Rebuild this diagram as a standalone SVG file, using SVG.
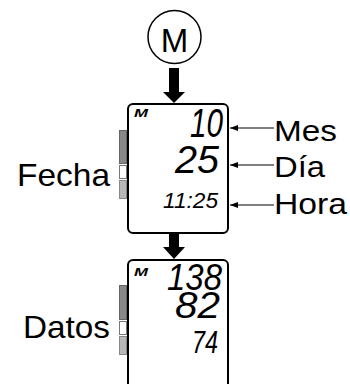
<svg xmlns="http://www.w3.org/2000/svg" width="350" height="384" viewBox="0 0 350 384">
<defs>
<style>
.lbl{font-family:"Liberation Sans",Arial,sans-serif;fill:#000}
.lcd{font-family:"Liberation Sans",Arial,sans-serif;font-style:italic;fill:#000}
.box{fill:#fff;stroke:#000;stroke-width:2}
.lead{stroke:#000;stroke-width:1;fill:none}
.dk{fill:#888;stroke:#666;stroke-width:1}
.wh{fill:#fff;stroke:#777;stroke-width:1}
.lt{fill:#b8b8b8;stroke:#888;stroke-width:1}
</style>
<marker id="ah" viewBox="0 0 8 6" refX="0" refY="3" markerWidth="8" markerHeight="6" markerUnits="userSpaceOnUse" orient="auto">
<path d="M8,0 L0,3 L8,6 Z" fill="#000"/>
</marker>
</defs>
<rect width="350" height="384" fill="#fff"/>
<g id="btn-m">
<circle cx="174.5" cy="37" r="26.5" fill="#fff" stroke="#000" stroke-width="1.5"/>
<text class="lbl" x="174.5" y="52" font-size="33" text-anchor="middle">M</text>
</g>
<g id="connectors">
<rect x="169" y="68" width="10" height="25" fill="#000"/>
<path d="M163,92 L185,92 L174,103 Z" fill="#000"/>
<rect x="169" y="234" width="10" height="14" fill="#000"/>
<path d="M163,247 L185,247 L174,259 Z" fill="#000"/>
<line class="lead" x1="230" y1="128" x2="274" y2="128" marker-start="url(#ah)"/>
<line class="lead" x1="230" y1="165" x2="274" y2="165" marker-start="url(#ah)"/>
<line class="lead" x1="230" y1="205" x2="274" y2="205" marker-start="url(#ah)"/>
</g>
<g id="screen-fecha">
<rect class="box" x="128" y="104" width="100" height="129" rx="5"/>
<text class="lcd" x="134" y="117" font-size="10" font-weight="bold" textLength="14" lengthAdjust="spacingAndGlyphs">M</text>
<text class="lcd" x="190" y="137" font-size="40" textLength="33" lengthAdjust="spacingAndGlyphs">10</text>
<text class="lcd" x="175" y="173" font-size="39" textLength="44" lengthAdjust="spacingAndGlyphs">25</text>
<text class="lcd" x="163" y="208" font-size="22" textLength="55" lengthAdjust="spacingAndGlyphs">11:25</text>
</g>
<g id="bar-fecha">
<rect class="dk" x="119.5" y="130.5" width="7" height="33"/>
<rect class="wh" x="119.5" y="165.5" width="7" height="13"/>
<rect class="lt" x="119.5" y="180.5" width="7" height="18"/>
</g>
<g id="label-fecha">
<text class="lbl" x="17" y="186" font-size="32" textLength="93" lengthAdjust="spacingAndGlyphs">Fecha</text>
</g>
<g id="label-mes"><text class="lbl" x="274" y="141" font-size="30" textLength="63" lengthAdjust="spacingAndGlyphs">Mes</text></g>
<g id="label-dia"><text class="lbl" x="274" y="177" font-size="30" textLength="51" lengthAdjust="spacingAndGlyphs">Día</text></g>
<g id="label-hora"><text class="lbl" x="274" y="214" font-size="30" textLength="73" lengthAdjust="spacingAndGlyphs">Hora</text></g>
<g id="screen-datos">
<rect class="box" x="128" y="260" width="100" height="140" rx="5"/>
<text class="lcd" x="134" y="276" font-size="10" font-weight="bold" textLength="14" lengthAdjust="spacingAndGlyphs">M</text>
<text class="lcd" x="167" y="290" font-size="37" textLength="55" lengthAdjust="spacingAndGlyphs">138</text>
<text class="lcd" x="175" y="318" font-size="36" textLength="45" lengthAdjust="spacingAndGlyphs">82</text>
<text class="lcd" x="192" y="353" font-size="31" textLength="26" lengthAdjust="spacingAndGlyphs">74</text>
</g>
<g id="bar-datos">
<rect class="dk" x="119.5" y="285.5" width="7" height="34"/>
<rect class="wh" x="119.5" y="321.5" width="7" height="13"/>
<rect class="lt" x="119.5" y="336.5" width="7" height="18"/>
</g>
<g id="label-datos">
<text class="lbl" x="23" y="338" font-size="32" textLength="87" lengthAdjust="spacingAndGlyphs">Datos</text>
</g>
</svg>
